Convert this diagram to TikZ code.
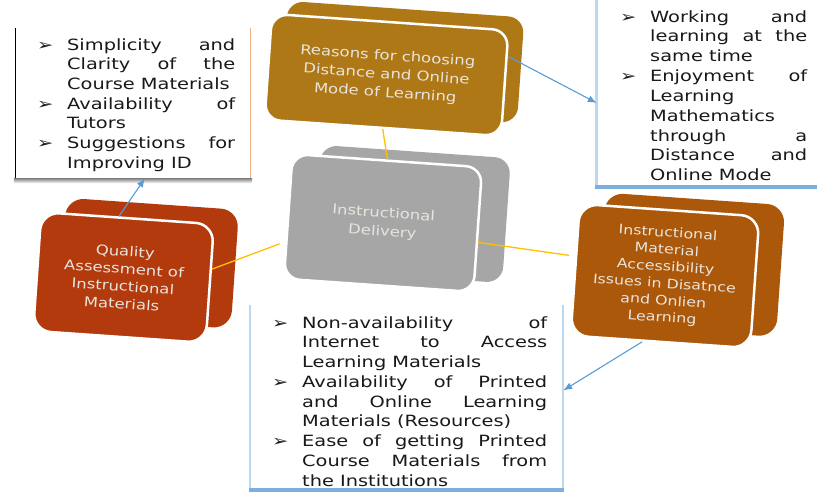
\documentclass[tikz,border=0pt]{standalone}
\usepackage{fontspec}
\setmainfont{DejaVu Sans}
\newfontfamily\listfam{DejaVu Sans}[FakeStretch=1.25]
\newfontfamily\facefam{DejaVu Sans}[FakeStretch=1.22]
\usetikzlibrary{arrows.meta,calc}

\definecolor{gold}{RGB}{174,120,22}
\definecolor{stone}{RGB}{166,166,166}
\definecolor{rust}{RGB}{178,58,12}
\definecolor{umber}{RGB}{172,88,10}
\definecolor{facetext}{RGB}{232,228,222}
\definecolor{linkblue}{RGB}{91,155,213}
\definecolor{paleblue}{RGB}{189,215,238}
\definecolor{tieyellow}{RGB}{255,192,0}
\definecolor{shade}{RGB}{222,118,52}

\newlength\linew
\newcommand\bul{\llap{\makebox[30pt][l]{➢}}}
\newcommand\jl[1]{\makebox[\linew][s]{#1}}

\tikzset{
  face/.style={fill=#1, draw=white, line width=2.5pt, rounded corners=16pt,
    text=facetext, font=\facefam\fontsize{13.5}{18.5}\selectfont, align=center,
    transform shape, inner sep=2pt},
  listbox/.style={fill=white, inner sep=0pt},
  listline/.style={anchor=base west, inner sep=0pt,
    font=\listfam\fontsize{15.5}{19.7}\selectfont, text=black!90},
  link/.style={draw=linkblue, line width=1.1pt, -{Latex[length=9pt,width=7pt]}},
  tie/.style={draw=tieyellow, line width=1.3pt},
}

\begin{document}
\begin{tikzpicture}[x=1pt,y=-1pt]
\useasboundingbox (0,0) rectangle (817,493);

% list boxes
\node[listbox, minimum width=234, minimum height=150] (tlbox) at (133,103) {};
\fill[shade] ([xshift=-2pt]tlbox.south west) rectangle ([xshift=2pt,yshift=-5pt]tlbox.south east);
\draw[shade, line width=1.2pt] (tlbox.north west) -- (tlbox.south west);
\draw[shade!60, line width=1pt] (tlbox.north east) -- (tlbox.south east);

\node[listbox, minimum width=225, minimum height=185] (trbox) at (709.5,92.5) {};
\draw[paleblue, line width=3pt] (trbox.north west) -- (trbox.south west);
\fill[linkblue!80] ([xshift=-1.5pt]trbox.south west) rectangle ([yshift=-4pt]trbox.south east);

\node[listbox, minimum width=313, minimum height=183] (botbox) at (406.5,396.5) {};
\draw[paleblue, line width=2.5pt] (botbox.north west) -- (botbox.south west);
\draw[paleblue, line width=2pt] (botbox.north east) -- (botbox.south east);
\fill[linkblue!80] ([xshift=-1.2pt]botbox.south west) rectangle ([xshift=1pt,yshift=-4pt]botbox.south east);

% list texts
\setlength\linew{168pt}
\foreach \t [count=\i] in {{\bul\jl{Simplicity and}}, {\jl{Clarity of the}}, Course Materials,
    {\bul\jl{Availability of}}, Tutors, {\bul\jl{Suggestions for}}, Improving ID}{
  \node[listline] (tl\i) at (67, 30.3+19.7*\i) {\t};
}
\setlength\linew{157pt}
\foreach \t [count=\i] in {{\bul\jl{Working and}}, {\jl{learning at the}}, same time,
    {\bul\jl{Enjoyment of}}, Learning, Mathematics, {\jl{through a}}, {\jl{Distance and}}, Online Mode}{
  \node[listline] (tr\i) at (650, 2.15+19.85*\i) {\t};
}
\setlength\linew{245pt}
\foreach \t [count=\i] in {{\bul\jl{Non-availability of}}, {\jl{Internet to Access}}, Learning Materials,
    {\bul\jl{Availability of Printed}}, {\jl{and Online Learning}}, Materials (Resources),
    {\bul\jl{Ease of getting Printed}}, {\jl{Course Materials from}}, the Institutions}{
  \node[listline] (bt\i) at (302, 308.25+19.75*\i) {\t};
}

% solid blocks
\begin{scope}[shift={(386.5,75)}, rotate=-4]
  \fill[gold, rounded corners=16pt] (-103.5,-67) rectangle (133.5,39);
  \node[face=gold, minimum width=237, minimum height=106] (reasons) at (0,0)
    {Reasons for choosing\\Distance and Online\\Mode of Learning};
\end{scope}
\begin{scope}[shift={(383,223)}, rotate=-4]
  \fill[stone, rounded corners=16pt] (-67,-73.5) rectangle (123,51.5);
  \node[face=stone, minimum width=190, minimum height=125] (delivery) at (0,0)
    {Instructional\\Delivery};
\end{scope}
\begin{scope}[shift={(123.5,277.5)}, rotate=-4]
  \fill[rust, rounded corners=18pt] (-62.5,-75.5) rectangle (110.5,43.5);
  \node[face=rust, rounded corners=18pt, minimum width=173, minimum height=119,
    font=\facefam\fontsize{13.5}{17.5}\selectfont] (quality) at (0,0)
    {Quality\\Assessment of\\Instructional\\Materials};
\end{scope}
\begin{scope}[shift={(665,276)}, rotate=-4]
  \fill[umber, rounded corners=18pt] (-65,-79) rectangle (115,53);
  \node[face=umber, rounded corners=18pt, minimum width=180, minimum height=132,
    font=\facefam\fontsize{13}{17}\selectfont] (access) at (0,0)
    {Instructional\\Material\\Accessibility\\Issues in Disatnce\\and Onlien\\Learning};
\end{scope}

% connectors
\draw[tie] (reasons.south) -- (delivery.north);
\draw[tie, shorten >=6pt] ($(quality.north east)!0.38!(quality.south east)$)
  -- ($(delivery.north west)!0.7!(delivery.south west)$);
\draw[tie, shorten >=6pt] ($(delivery.north east)!0.6!(delivery.south east)$)
  -- ($(access.north west)!0.4!(access.south west)$);
\draw[link] ($(reasons.north east)!0.25!(reasons.south east)$) -- ([yshift=-10.5pt]trbox.west);
\draw[link] ($(quality.north west)!0.45!(quality.north east)$) -- ([xshift=12pt]tlbox.south);
\draw[link] ($(access.south west)!0.4!(access.south east)$) -- ([yshift=6pt]botbox.east);
\end{tikzpicture}
\end{document}
